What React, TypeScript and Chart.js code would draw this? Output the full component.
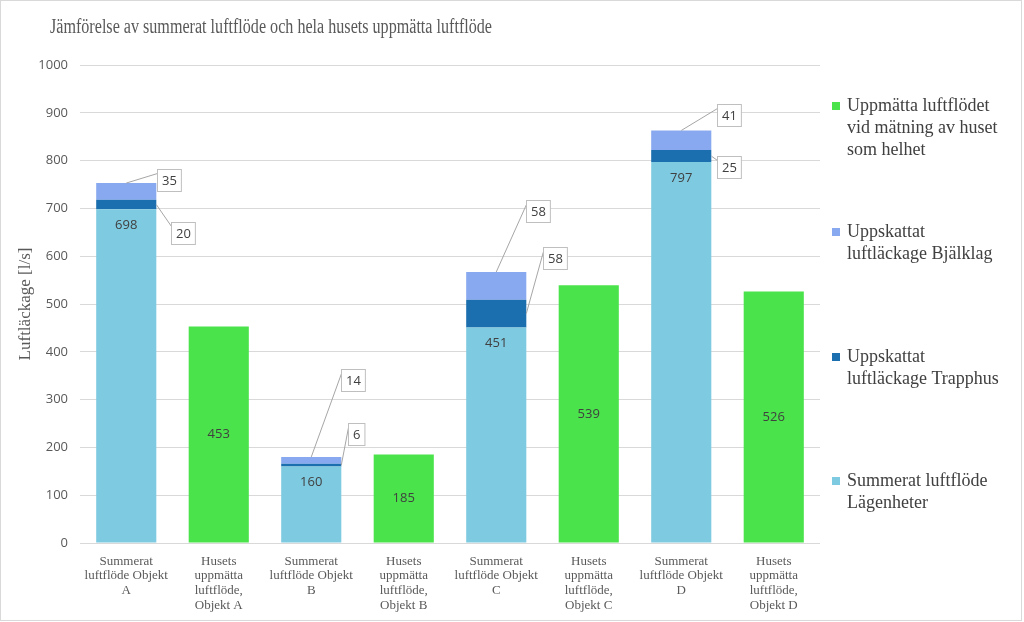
import React, { useEffect, useRef } from "react";
import { Chart, registerables } from "chart.js";

Chart.register(...registerables);

const titleText = "Jämförelse av summerat luftflöde och hela husets uppmätta luftflöde";
const yAxisTitle = "Luftläckage [l/s]";

const categories: string[][] = [
  ["Summerat", "luftflöde Objekt", "A"],
  ["Husets", "uppmätta", "luftflöde,", "Objekt A"],
  ["Summerat", "luftflöde Objekt", "B"],
  ["Husets", "uppmätta", "luftflöde,", "Objekt B"],
  ["Summerat", "luftflöde Objekt", "C"],
  ["Husets", "uppmätta", "luftflöde,", "Objekt C"],
  ["Summerat", "luftflöde Objekt", "D"],
  ["Husets", "uppmätta", "luftflöde,", "Objekt D"],
];

const lagenheter = [698, null, 160, null, 451, null, 797, null];
const trapphus = [20, null, 6, null, 58, null, 25, null];
const bjalklag = [35, null, 14, null, 58, null, 41, null];
const uppmatta = [null, 453, null, 185, null, 539, null, 526];

const yMin = 0;
const yMax = 1000;
const yStep = 100;

const seriesNames = [
  "Summerat luftflöde Lägenheter",
  "Uppskattat luftläckage Trapphus",
  "Uppskattat luftläckage Bjälklag",
  "Uppmätta luftflödet vid mätning av huset som helhet",
];

// legend text lines (top to bottom as shown)
const legendLines: string[][] = [
  ["Uppmätta luftflödet", "vid mätning av huset", "som helhet"],
  ["Uppskattat", "luftläckage Bjälklag"],
  ["Uppskattat", "luftläckage Trapphus"],
  ["Summerat luftflöde", "Lägenheter"],
];

const colors = {
  lagenheter: "#7ECAE0",
  trapphus: "#1C6FAE",
  bjalklag: "#88A9EF",
  uppmatta: "#4BE34B",
};

// callout box offsets (pixels) from anchor – style only
const bjalklagCallout = [
  [43, -3], null, [42, -77], null, [42, -61], null, [48, -15], null,
];
const trapphusCallout = [
  [27, 28], null, [15, -31], null, [29, -56], null, [18, 11], null,
];

const legendY = [106, 232, 357, 481];

const textGrey = "#595959";
const labelDark = "#404040";

const customPlugin = {
  id: "custom",
  beforeDraw(chart: any) {
    const ctx = chart.ctx;
    ctx.save();
    ctx.fillStyle = "#ffffff";
    ctx.fillRect(0, 0, chart.width, chart.height);
    ctx.strokeStyle = "#d9d9d9";
    ctx.lineWidth = 1;
    ctx.strokeRect(0.5, 0.5, chart.width - 3, chart.height - 2);
    ctx.restore();
  },
  afterDatasetsDraw(chart: any) {
    const ctx = chart.ctx;
    ctx.save();
    ctx.font = '13px "Open Sans"';
    ctx.textAlign = "center";
    ctx.textBaseline = "middle";
    ctx.fillStyle = labelDark;

    const m0 = chart.getDatasetMeta(0);
    m0.data.forEach((el: any, i: number) => {
      const v = lagenheter[i];
      if (v == null) return;
      ctx.fillText(String(v), el.x, el.y + 16);
    });
    const m3 = chart.getDatasetMeta(3);
    m3.data.forEach((el: any, i: number) => {
      const v = uppmatta[i];
      if (v == null) return;
      ctx.fillText(String(v), el.x, (el.y + el.base) / 2);
    });

    const drawCallout = (ax: number, ay: number, off: number[], text: string) => {
      const cx = ax + off[0];
      const cy = ay + off[1];
      const w = ctx.measureText(text).width + 9;
      const h = 22;
      const left = Math.round(cx - w / 2) + 0.5;
      const top = Math.round(cy - h / 2) + 0.5;
      ctx.strokeStyle = "#a6a6a6";
      ctx.lineWidth = 1;
      ctx.beginPath();
      ctx.moveTo(ax, ay);
      ctx.lineTo(left, top + 4);
      ctx.stroke();
      ctx.fillStyle = "#ffffff";
      ctx.fillRect(left, top, w, h);
      ctx.strokeStyle = "#bfbfbf";
      ctx.strokeRect(left, top, w, h);
      ctx.fillStyle = labelDark;
      ctx.fillText(text, left + w / 2, top + h / 2 + 0.5);
    };

    const m2 = chart.getDatasetMeta(2);
    m2.data.forEach((el: any, i: number) => {
      const v = bjalklag[i];
      const off = bjalklagCallout[i];
      if (v == null || !off) return;
      drawCallout(el.x, el.y, off as number[], String(v));
    });
    const m1 = chart.getDatasetMeta(1);
    m1.data.forEach((el: any, i: number) => {
      const v = trapphus[i];
      const off = trapphusCallout[i];
      if (v == null || !off) return;
      drawCallout(el.x + el.width / 2, (el.y + el.base) / 2, off as number[], String(v));
    });
    ctx.restore();
  },
  afterDraw(chart: any) {
    const ctx = chart.ctx;
    ctx.save();
    // title
    ctx.fillStyle = textGrey;
    ctx.font = '20px "Liberation Serif"';
    ctx.textBaseline = "middle";
    ctx.textAlign = "left";
    const tw = ctx.measureText(titleText).width;
    const sx = Math.min(1, 442 / tw);
    ctx.save();
    ctx.translate(50, 28);
    ctx.scale(sx, 1);
    ctx.fillText(titleText, 0, 0);
    ctx.restore();

    // y axis title
    ctx.save();
    ctx.font = '17px "Liberation Serif"';
    ctx.translate(26, 304);
    ctx.rotate(-Math.PI / 2);
    ctx.textAlign = "center";
    ctx.fillText(yAxisTitle, 0, 0);
    ctx.restore();

    // legend
    const legendColors = [colors.uppmatta, colors.bjalklag, colors.trapphus, colors.lagenheter];
    ctx.font = '18px "Liberation Serif"';
    ctx.textAlign = "left";
    legendLines.forEach((lines, k) => {
      const y0 = legendY[k];
      ctx.fillStyle = legendColors[k];
      ctx.fillRect(832, y0 - 4, 8, 8);
      ctx.fillStyle = labelDark;
      lines.forEach((ln, j) => {
        ctx.fillText(ln, 847, y0 + j * 22);
      });
    });
    ctx.restore();
  },
};

export default function App() {
  const ref = useRef<HTMLCanvasElement>(null);
  useEffect(() => {
    if (!ref.current) return;
    const chart = new Chart(ref.current, {
      type: "bar",
      data: {
        labels: categories as any,
        datasets: [
          { label: seriesNames[0], data: lagenheter as any, backgroundColor: colors.lagenheter },
          { label: seriesNames[1], data: trapphus as any, backgroundColor: colors.trapphus },
          { label: seriesNames[2], data: bjalklag as any, backgroundColor: colors.bjalklag },
          { label: seriesNames[3], data: uppmatta as any, backgroundColor: colors.uppmatta },
        ],
      },
      options: {
        responsive: false,
        animation: false,
        devicePixelRatio: 1,
        datasets: { bar: { barPercentage: 0.65, categoryPercentage: 1 } },
        layout: { padding: { left: 0, right: 204, top: 65, bottom: 0 } },
        plugins: {
          legend: { display: false },
          title: { display: false },
          tooltip: { enabled: false },
        },
        scales: {
          x: {
            stacked: true,
            grid: { display: false, drawTicks: false },
            border: { display: false },
            ticks: {
              autoSkip: false,
              maxRotation: 0,
              minRotation: 0,
              padding: 11,
              color: textGrey,
              font: { family: "Liberation Serif", size: 13, lineHeight: 1.13 },
            },
            afterFit: (s: any) => {
              s.height = 79;
            },
          },
          y: {
            stacked: true,
            min: yMin,
            max: yMax,
            grid: { color: "#d9d9d9", drawTicks: false, lineWidth: 1 },
            border: { display: false },
            ticks: {
              stepSize: yStep,
              padding: 12,
              color: textGrey,
              font: { family: "Open Sans", size: 13 },
              callback: (v: any) => String(v),
            },
            afterFit: (s: any) => {
              s.width = 80;
            },
          },
        },
      },
      plugins: [customPlugin],
    });
    return () => chart.destroy();
  }, []);
  return (
    <canvas
      ref={ref}
      width={1024}
      height={622}
      style={{ position: "fixed", left: 0, top: 0, width: 1024, height: 622 }}
    />
  );
}
